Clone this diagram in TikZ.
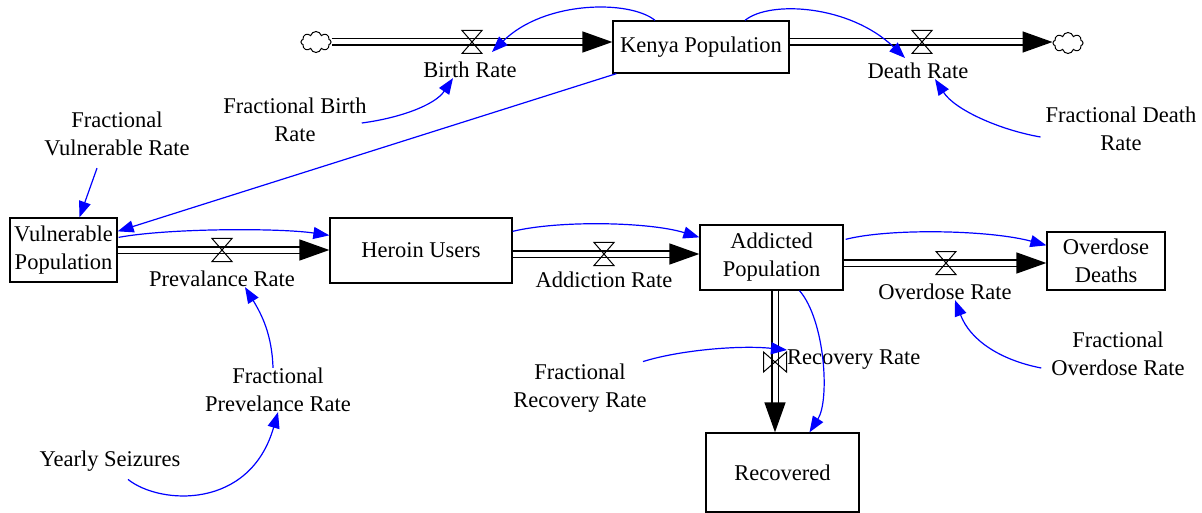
\documentclass[tikz,border=0pt]{standalone}
\usepackage{fontspec}
\setmainfont{Liberation Serif}
\usetikzlibrary{arrows.meta, positioning, shapes.symbols}
\definecolor{linkblue}{RGB}{0,0,255}
\tikzset{
  stock/.style={draw, line width=1.3pt, align=center, inner sep=0pt},
  aux/.style={align=center, inner sep=0pt},
  pipe/.style={double, double distance=5pt, line width=1.5pt, -{Triangle[length=30pt,width=21pt]}},
  link/.style={linkblue, line width=1.2pt, -{Triangle[length=16pt,width=12pt]}},
  source/.style={cloud, draw, line width=1pt, cloud puffs=8, minimum width=30pt, minimum height=21pt, inner sep=0pt},
  valve/.pic={\draw[line width=1pt] (-10,11.5) -- (10,11.5) -- (-10,-11.5) -- (10,-11.5) -- cycle;}
}

\begin{document}
\begin{tikzpicture}[x=1pt, y=1pt, font=\fontsize{22.5}{28}\selectfont]
    \useasboundingbox (0,0) rectangle (1202,-513);
    % stocks
    \node[stock, minimum width=176pt, minimum height=52pt] (kenya) at (701,-47) {Kenya Population};
    \node[stock, minimum width=107pt, minimum height=64pt] (vuln) at (63.5,-250) {Vulnerable\\Population};
    \node[stock, minimum width=182pt, minimum height=65pt] (heroin) at (421,-250.5) {Heroin Users};
    \node[stock, minimum width=143pt, minimum height=65pt] (addicted) at (771.5,-257.5) {Addicted\\Population};
    \node[stock, minimum width=118pt, minimum height=58pt] (odeaths) at (1106,-261) {Overdose\\Deaths};
    \node[stock, minimum width=153pt, minimum height=79pt] (recovered) at (782.5,-472.5) {Recovered};
    \node[source] (cloudL) at (316,-42) {};
    \node[source] (cloudR) at (1068,-43) {};

    % valves
    \coordinate (vbirth) at (472,-42);
    \coordinate (vdeath) at (922,-42);
    \coordinate (vprev) at (222,-250);
    \coordinate (vadd) at (604,-254);
    \coordinate (vover) at (946,-263);
    \coordinate (vrec) at (775,-362);

    % flows
    \draw[pipe] (cloudL.east |- vbirth) -- (kenya.west |- vbirth);
    \draw[pipe] (kenya.east |- vdeath) -- (cloudR.west |- vdeath);
    \draw[pipe] (vuln.east |- vprev) -- (heroin.west |- vprev);
    \draw[pipe] (heroin.east |- vadd) -- (addicted.west |- vadd);
    \draw[pipe] (addicted.east |- vover) -- (odeaths.west |- vover);
    \draw[pipe] (addicted.south -| vrec) -- (recovered.north -| vrec);
    \foreach \v in {vbirth, vdeath, vprev, vadd, vover}
        \path (\v) pic {valve};
    \path (vrec) pic[rotate=90] {valve};

    % rates and auxiliaries
    \node[aux] (rbirth) at (470,-70) {Birth Rate};
    \node[aux] (rdeath) at (918,-71) {Death Rate};
    \node[aux] (rprev) at (222,-279) {Prevalance Rate};
    \node[aux] (radd) at (604,-280) {Addiction Rate};
    \node[aux] (rover) at (945,-292) {Overdose Rate};
    \node[aux, anchor=west] (rrec) at (787,-360) {Recovery Rate};
    \node[aux] (fbirth) at (295,-120) {Fractional Birth\\Rate};
    \node[aux] (fdeath) at (1121,-129) {Fractional Death\\Rate};
    \node[aux] (fvuln) at (117,-134) {Fractional\\Vulnerable Rate};
    \node[aux] (fprev) at (278,-390) {Fractional\\Prevelance Rate};
    \node[aux] (yearly) at (110,-461) {Yearly Seizures};
    \node[aux] (frec) at (580,-388) {Fractional\\Recovery Rate};
    \node[aux] (fover) at (1118,-354) {Fractional\\Overdose Rate};

    % links
    \draw[link] ([xshift=-46pt]kenya.north) .. controls (630,0) and (545,0) .. ([shift={(20,-10)}]vbirth);
    \draw[link] ([xshift=44pt]kenya.north) .. controls (770,0) and (850,-5) .. ([shift={(-17,-16)}]vdeath);
    \draw[link] ([shift={(-5,-3)}]fbirth.east) .. controls (400,-118) and (435,-105) .. ([xshift=-17pt]rbirth.south);
    \draw[link] ([shift={(-5,-8)}]fdeath.west) .. controls (1000,-130) and (955,-110) .. ([xshift=17pt]rdeath.south);
    \draw[link] ([xshift=4pt]kenya.south west) -- ([yshift=-14pt]vuln.north east);
    \draw[link] ([shift={(-20,-12)}]fvuln.south) -- ([xshift=16pt]vuln.north);
    \draw[link] ([shift={(1,-20)}]vuln.north east) .. controls (170,-228) and (280,-228) .. ([yshift=-18pt]heroin.north west);
    \draw[link] ([yshift=-14pt]heroin.north east) .. controls (560,-220) and (650,-222) .. ([yshift=-13pt]addicted.north west);
    \draw[link] ([shift={(2,-15)}]addicted.north east) .. controls (890,-228) and (990,-230) .. ([yshift=-14pt]odeaths.north west);
    \draw[link] ([xshift=-5pt]fprev.north) .. controls (272,-335) and (262,-315) .. ([xshift=23pt]rprev.south);
    \draw[link] ([shift={(18,-8)}]yearly.south) .. controls (160,-505) and (250,-510) .. (fprev.south);
    \draw[link] ([shift={(-10,-14)}]fover.west) .. controls (1000,-360) and (970,-340) .. ([xshift=10pt]rover.south);
    \draw[link] ([shift={(63,2)}]frec.north) .. controls (680,-350) and (740,-345) .. ([shift={(12,12)}]vrec);
    \draw[link] ([xshift=28pt]addicted.south) .. controls (825,-320) and (830,-400) .. ([xshift=27pt]recovered.north);
\end{tikzpicture}
\end{document}
